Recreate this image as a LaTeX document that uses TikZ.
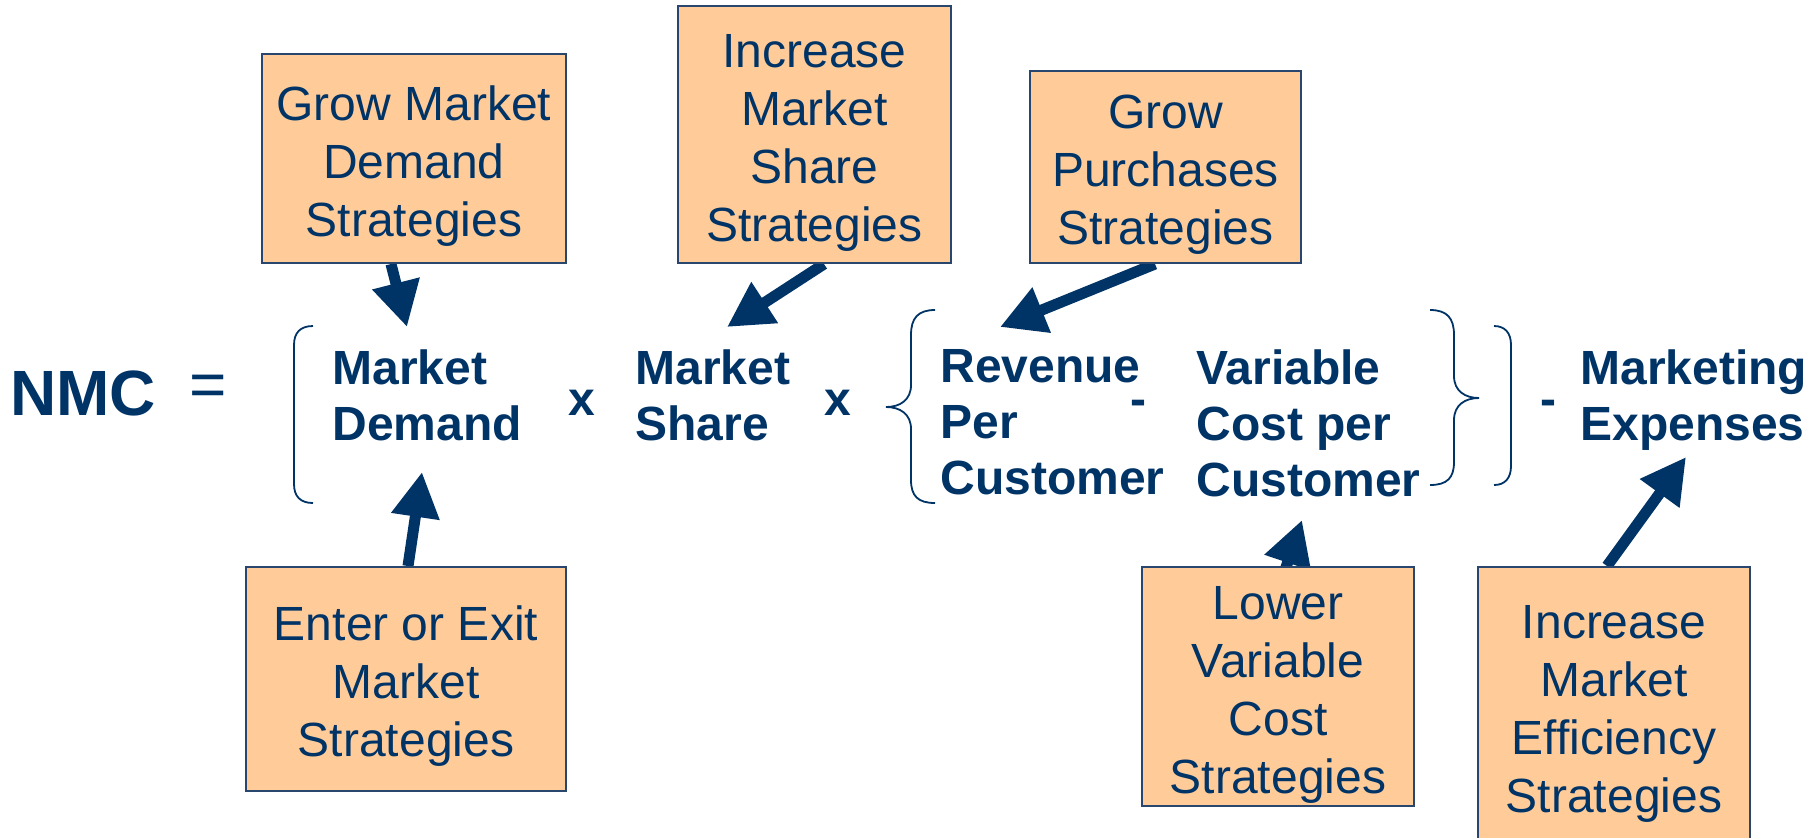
\documentclass[tikz,border=0pt]{standalone}
\usepackage{fontspec}
\setmainfont{Liberation Sans}
\usetikzlibrary{arrows.meta,backgrounds}
\definecolor{navy}{RGB}{0,51,102}
\definecolor{boxfill}{RGB}{255,204,153}
\definecolor{boxline}{RGB}{40,70,110}
% taller first line, so the box text sits a little lower
\newcommand\firstline{\rule{0pt}{24.5pt}}

\begin{document}
\begin{tikzpicture}[x=0.5pt,y=-0.5pt,
  strategy/.style={draw=boxline, line width=1pt, fill=boxfill, text=navy,
    align=center, inner sep=0pt, font=\fontsize{24}{29}\selectfont},
  term/.style={text=navy, align=left, inner sep=0pt, anchor=north west,
    font=\fontsize{24}{28}\selectfont\bfseries},
  op/.style={text=navy, inner sep=0pt, anchor=base,
    font=\fontsize{24}{28}\selectfont\bfseries},
  fence/.style={draw=navy, line width=0.9pt},
  push/.style={draw=navy, line width=5.5pt,
    -{Triangle[length=22.5pt,width=23pt]}}
]
\useasboundingbox (0,0) rectangle (1818,837);
\clip (0,0) rectangle (1818,837);

% strategy boxes
\node[strategy, minimum width=152pt, minimum height=104.5pt] (gmd) at (414,158.5)
  {\firstline Grow Market\\Demand\\Strategies};
\node[strategy, minimum width=136.5pt, minimum height=128.5pt] (ims) at (814.5,134.5)
  {\firstline Increase\\Market\\Share\\Strategies};
\node[strategy, minimum width=135.5pt, minimum height=96pt] (gps) at (1165.5,167)
  {\firstline Grow\\Purchases\\Strategies};
\node[strategy, minimum width=160pt, minimum height=112pt] (eem) at (406,679)
  {\firstline Enter or Exit\\Market\\Strategies};
\node[strategy, minimum width=136pt, minimum height=119.5pt] (lvc) at (1278,686.5)
  {\firstline Lower\\Variable\\Cost\\Strategies};
\node[strategy, minimum width=136pt, minimum height=139pt] (ime) at (1614,706)
  {\firstline Increase\\Market\\Efficiency\\Strategies};

% the equation
\node[text=navy, inner sep=0pt, anchor=base west,
  font=\fontsize{32}{38}\selectfont\bfseries] (nmc) at (10,415) {NMC};
\node[text=navy, inner sep=0pt, anchor=base,
  font=\fontsize{32}{38}\selectfont] (eq) at (208,406) {=};
\node[term] (md) at (332,349) {Market\\Demand};
\node[op] (x1) at (582,415) {x};
\node[term] (ms) at (635,349) {Market\\Share};
\node[op] (x2) at (838,415) {x};
\node[term] (rpc) at (940,349) {Revenue\\Per\\Customer};
\node[op] (m1) at (1138,415) {-};
\node[term] (vcc) at (1196,349) {Variable\\Cost per\\Customer};
\node[op] (m2) at (1548,415) {-};
\node[term] (mex) at (1580,349) {Marketing\\Expenses};

% brackets and braces
\draw[fence] (313,326) .. controls (300,326) and (294,333) .. (294,345)
  -- (294,484) .. controls (294,496) and (300,503) .. (313,503);
\draw[fence] (935,310) .. controls (918,310) and (911,318) .. (911,335)
  -- (911,385) .. controls (911,400) and (900,407) .. (886,407)
  .. controls (900,407) and (911,414) .. (911,429)
  -- (911,480) .. controls (911,496) and (918,503) .. (935,503);
\draw[fence] (1430,310) .. controls (1447,310) and (1454,318) .. (1454,335)
  -- (1454,376) .. controls (1454,391) and (1465,398) .. (1479,398)
  .. controls (1465,398) and (1454,405) .. (1454,420)
  -- (1454,462) .. controls (1454,478) and (1447,485) .. (1430,485);
\draw[fence] (1494,326) .. controls (1505,326) and (1511,333) .. (1511,345)
  -- (1511,466) .. controls (1511,478) and (1505,485) .. (1494,485);

% arrow tips
\coordinate (t1) at (407,327);
\coordinate (t2) at (727,327);
\coordinate (t3) at (1000,327);
\coordinate (t4) at (422,472);
\coordinate (t5) at (1302,520);
\coordinate (t6) at (1686,457);

% arrows, behind the boxes
\begin{scope}[on background layer]
\draw[push] ([xshift=-11.5pt]gmd.south) -- (t1);
\draw[push] ([xshift=4.75pt]ims.south) -- (t2);
\draw[push] ([xshift=-5.25pt]gps.south) -- (t3);
\draw[push] ([xshift=1pt]eem.north) -- (t4);
\draw[push] ([xshift=1.5pt,yshift=-8pt]lvc.north) -- (t5);
\draw[push] ([xshift=-3.5pt]ime.north) -- (t6);
\end{scope}
\end{tikzpicture}
\end{document}
